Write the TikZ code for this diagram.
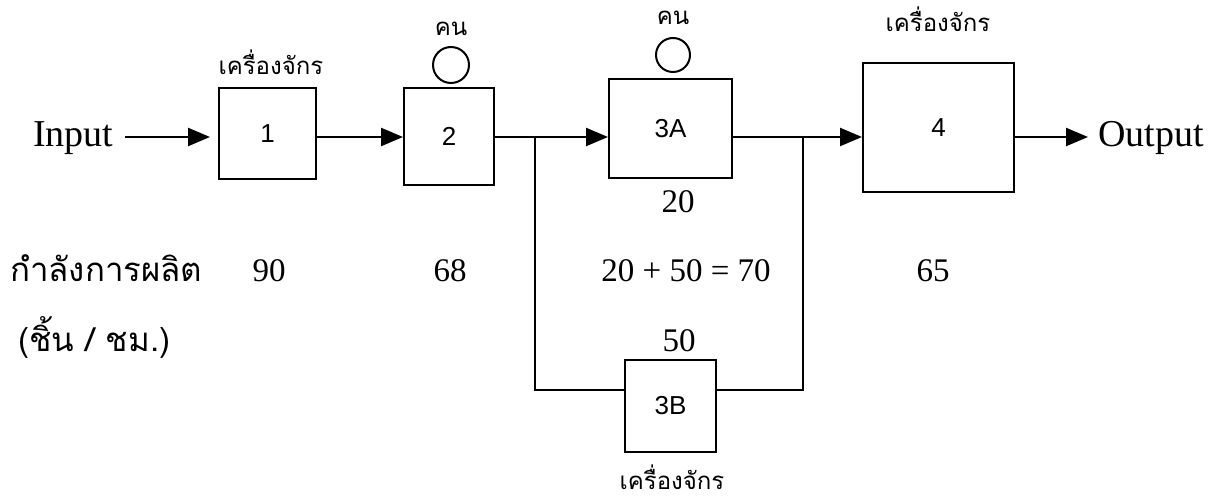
\documentclass[tikz,border=0pt]{standalone}
\usepackage{fontspec}
\setmainfont{Liberation Serif}
\newfontfamily\thai[Script=Thai]{Loma}
\newfontfamily\arialf{Liberation Sans}
\usetikzlibrary{arrows.meta}
\begin{document}
\begin{tikzpicture}[x=1pt,y=-1pt,
  procbox/.style={draw,line width=2pt,minimum width=#1,inner sep=0pt,font=\arialf\fontsize{26}{28}\selectfont},
  flowarrow/.style={line width=2.4pt,-{Triangle[length=22pt,width=18pt]}},
  branch/.style={line width=1.8pt},
  person/.style={draw,circle,line width=2pt,minimum size=#1,inner sep=0pt},
  thaismall/.style={font=\thai\fontsize{24}{26}\selectfont,inner sep=0pt},
  thaibig/.style={font=\thai\fontsize{33}{35}\selectfont,inner sep=0pt},
  num/.style={font=\fontsize{33}{35}\selectfont,inner sep=0pt,anchor=base},
  io/.style={font=\fontsize{38}{40}\selectfont,inner sep=0pt}]
\useasboundingbox (0,0) rectangle (1219,502);
% boxes
\node[procbox=97pt,minimum height=91pt] (b1) at (267.5,133.5) {1};
\node[procbox=90pt,minimum height=97pt] (b2) at (449,136.5) {2};
\node[procbox=123pt,minimum height=99pt] (b3A) at (670.5,128.5) {3A};
\node[procbox=151pt,minimum height=129pt] (b4) at (938.5,127.5) {4};
\node[procbox=91pt,minimum height=92pt] (b3B) at (670.5,406) {3B};
% people
\node[person=36pt] (c2) at (451,65) {};
\node[person=34pt] (c3) at (673,55) {};
\node[thaismall] (k2) at (451,29) {คน};
\node[thaismall] (k3) at (673,18) {คน};
% machine labels
\node[thaismall] (m1) at (271,62) {เครื่องจักร};
\node[thaismall] (m4) at (938,19) {เครื่องจักร};
\node[thaismall] (m3B) at (672,477) {เครื่องจักร};
% io
\node[io,anchor=base west] (inp) at (33,147) {Input};
\node[io,anchor=base west] (outp) at (1098,147) {Output};
\coordinate (in) at (125,137);
\coordinate (out) at (1088,137);
\coordinate (jL) at (535,137);
\coordinate (jR) at (803,137);
\coordinate (bb) at (0,390);
% connectors
\draw[flowarrow,shorten >=8pt] (in) -- (in -| b1.west);
\draw[flowarrow] (b1.east |- in) -- (b2.west |- in);
\draw[flowarrow] (b2.east |- jL) -- (b3A.west |- jL);
\draw[flowarrow] (b3A.east |- jR) -- (b4.west |- jR);
\draw[flowarrow] (b4.east |- jR) -- (out);
\draw[branch] (jL) -- (jL |- bb) -- (b3B.west |- bb);
\draw[branch] (b3B.east |- bb) -- (jR |- bb) -- (jR);
% capacities
\node[num] (n3A) at (678,213) {20};
\node[num] (n3B) at (679,352) {50};
\node[thaibig,anchor=base west] (cap) at (10,282) {กำลังการผลิต};
\node[thaibig,anchor=base west] (unit) at (18,352) {(ชิ้น / ชม.)};
\node[num] (n1) at (269,282) {90};
\node[num] (n2) at (450,282) {68};
\node[num] (nsum) at (686,282) {20 + 50 = 70};
\node[num] (n4) at (933,282) {65};
\end{tikzpicture}
\end{document}
